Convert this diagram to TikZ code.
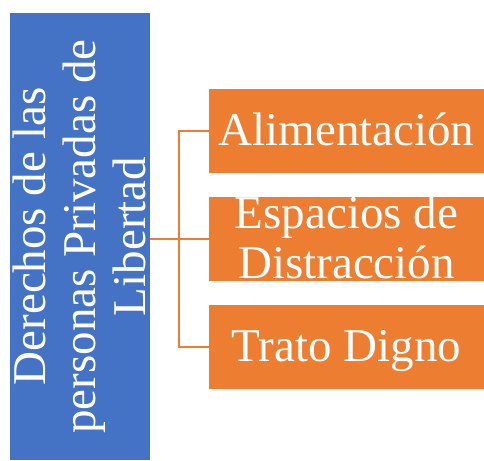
\documentclass[tikz,border=0pt]{standalone}
\usepackage{fontspec}
\setmainfont{Liberation Serif}
\definecolor{acblue}{HTML}{4472C4}
\definecolor{acorange}{HTML}{ED7D31}
\tikzset{
  bigtext/.style={text=white, inner sep=0pt, align=center, font=\fontsize{47}{50}\selectfont},
  rightbox/.style={bigtext, fill=acorange, minimum width=275pt, minimum height=84pt},
  link/.style={draw=acorange, line width=2.2pt}
}
\begin{document}
\begin{tikzpicture}[x=1pt,y=1pt]
\useasboundingbox (0,0) rectangle (484,-460);

\node[bigtext, fill=acblue, rotate=90, minimum width=447pt, minimum height=140pt,
  text height=135pt, text depth=5pt] (derechos) at (80,-236.5)
  {Derechos de las\\personas Privadas de\\Libertad};

\node[rightbox, text height=31pt, text depth=3pt] (alim) at (346.5,-131) {Alimentación};
\node[rightbox, text height=81pt, text depth=3pt] (espacios) at (346.5,-239) {Espacios de\\Distracción};
\node[rightbox, text height=31pt, text depth=3pt] (trato) at (346.5,-347) {Trato Digno};

\coordinate (split) at (179,-239);
\draw[link] (derechos.south |- espacios.west) -- (espacios.west);
\draw[link] (alim.west) -- (split |- alim.west) -- (split |- trato.west) -- (trato.west);

\end{tikzpicture}
\end{document}
